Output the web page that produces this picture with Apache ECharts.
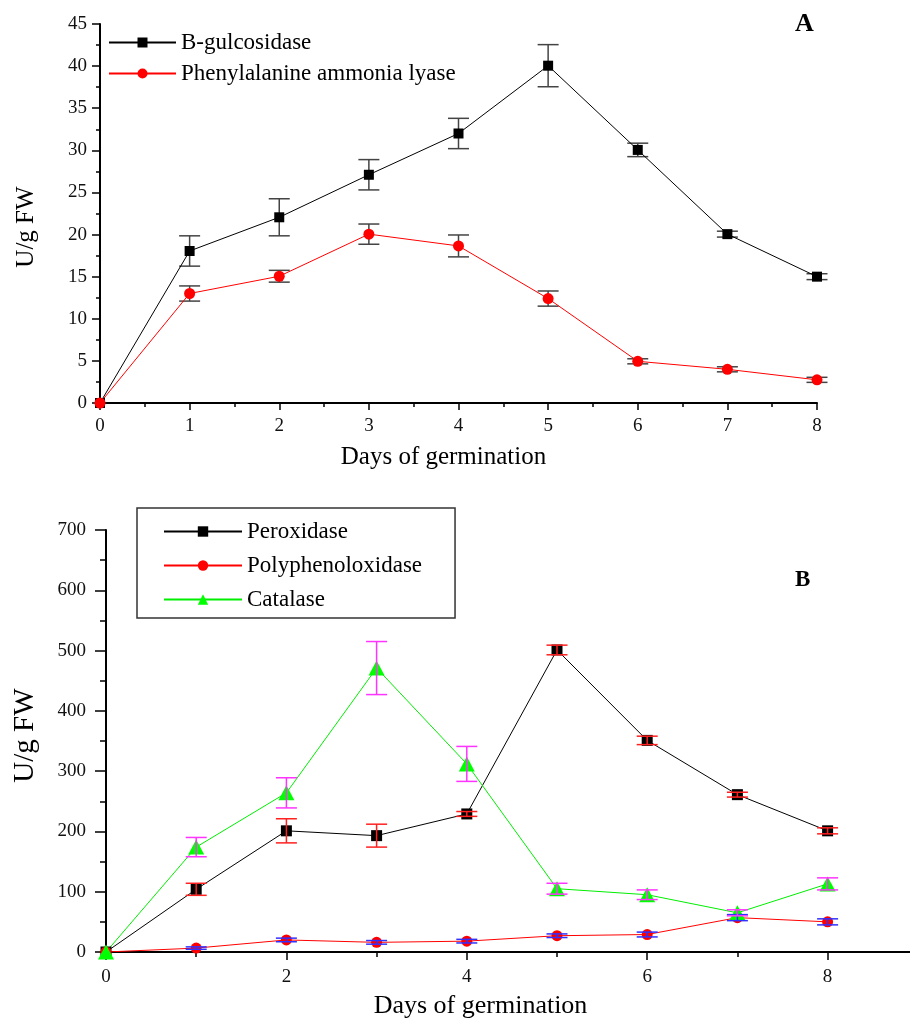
<!DOCTYPE html>
<html>
<head>
<meta charset="utf-8">
<script src="https://cdn.jsdelivr.net/npm/echarts@6/dist/echarts.min.js"></script>
<style>html,body{margin:0;padding:0;background:#fff}#c{width:910px;height:1021px}</style>
</head>
<body>
<div id="c"></div>
<script>
// ---- Data ----
var days = [0, 1, 2, 3, 4, 5, 6, 7, 8];
// Panel A
var bGlucosidase    = [0, 18.05, 22.05, 27.1, 32.0, 40.05, 30.05, 20.05, 15.0];
var bGlucosidaseErr = [0, 1.8, 2.2, 1.8, 1.8, 2.5, 0.8, 0.35, 0.35];
var pal             = [0, 13.0, 15.05, 20.05, 18.65, 12.4, 4.95, 4.0, 2.75];
var palErr          = [0, 0.9, 0.7, 1.2, 1.3, 0.9, 0.3, 0.3, 0.3];
// Panel B
var peroxidase      = [0, 104, 201, 193, 229, 501, 351, 261, 201];
var peroxidaseErr   = [0, 10, 20, 19, 4, 8, 7, 4, 5];
var polyphenol      = [0, 6.5, 20, 16, 18, 27, 29, 57, 50];
var polyphenolErr   = [0, 2, 3, 3, 3, 3, 4, 5, 5];
var catalase        = [0, 174, 264, 471, 312, 105, 95, 65, 113];
var catalaseErr     = [0, 16, 25, 44, 29, 9, 8, 5, 10];

var FONT = "'Liberation Serif','Times New Roman',serif";

function pts(vals) { return days.map(function (d, i) { return [d, vals[i]]; }); }
function errPts(vals, errs) { return days.map(function (d, i) { return [d, vals[i] - errs[i], vals[i] + errs[i]]; }); }

function errRenderer(color, hw) {
  return function (params, api) {
    var x = api.value(0), lo = api.value(1), hi = api.value(2);
    if (hi - lo <= 0) return null;
    var p1 = api.coord([x, hi]), p2 = api.coord([x, lo]);
    var st = { stroke: color, lineWidth: 1.5 };
    return {
      type: 'group',
      children: [
        { type: 'line', shape: { x1: p1[0], y1: p1[1], x2: p2[0], y2: p2[1] }, style: st },
        { type: 'line', shape: { x1: p1[0] - hw, y1: p1[1], x2: p1[0] + hw, y2: p1[1] }, style: st },
        { type: 'line', shape: { x1: p2[0] - hw, y1: p2[1], x2: p2[0] + hw, y2: p2[1] }, style: st }
      ]
    };
  };
}

function errSeries(vals, errs, color, gi, z) {
  return {
    type: 'custom', xAxisIndex: gi, yAxisIndex: gi, z: z, silent: true,
    renderItem: errRenderer(color, 10.5),
    encode: { x: 0, y: [1, 2] },
    data: errPts(vals, errs)
  };
}

var axisLineStyle = { color: '#000', width: 2 };
var tickStyle = { color: '#000', width: 1.5 };

var chart = echarts.init(document.getElementById('c'), null, { renderer: 'canvas' });
chart.setOption({
  animation: false,
  backgroundColor: '#fff',
  grid: [
    { left: 100, top: 24, width: 717, height: 379, outerBoundsMode: 'none' },
    { left: 106, top: 530, width: 902, height: 422, outerBoundsMode: 'none' }
  ],
  xAxis: [
    {
      type: 'value', gridIndex: 0, min: 0, max: 8, interval: 1,
      name: 'Days of germination', nameLocation: 'middle', nameGap: 42,
      nameTextStyle: { fontFamily: FONT, fontSize: 25, color: '#000', padding: [0, 30, 0, 0] },
      axisLine: { show: true, onZero: false, lineStyle: axisLineStyle },
      axisTick: { show: true, length: 7, lineStyle: tickStyle },
      minorTick: { show: true, splitNumber: 2, length: 4, lineStyle: tickStyle },
      splitLine: { show: false },
      axisLabel: { margin: 14, fontFamily: FONT, fontSize: 19, color: '#111' }
    },
    {
      type: 'value', gridIndex: 1, min: 0, max: 10, interval: 2,
      name: 'Days of germination', nameLocation: 'middle', nameGap: 41,
      nameTextStyle: { fontFamily: FONT, fontSize: 26, color: '#000', padding: [0, 153, 0, 0] },
      axisLine: { show: true, onZero: false, lineStyle: axisLineStyle },
      axisTick: { show: true, length: 8, lineStyle: tickStyle },
      minorTick: { show: true, splitNumber: 2, length: 5, lineStyle: tickStyle },
      splitLine: { show: false },
      axisLabel: { margin: 16, fontFamily: FONT, fontSize: 19, color: '#111' }
    }
  ],
  yAxis: [
    {
      type: 'value', gridIndex: 0, min: 0, max: 45, interval: 5,
      name: 'U/g FW', nameLocation: 'middle', nameGap: 61, nameRotate: 90,
      nameTextStyle: { fontFamily: FONT, fontSize: 25, color: '#000', padding: [0, 27, 0, 0] },
      axisLine: { show: true, onZero: false, lineStyle: axisLineStyle },
      axisTick: { show: true, length: 8, lineStyle: tickStyle },
      minorTick: { show: true, splitNumber: 2, length: 4, lineStyle: tickStyle },
      splitLine: { show: false },
      axisLabel: { margin: 13, fontFamily: FONT, fontSize: 19, color: '#111' }
    },
    {
      type: 'value', gridIndex: 1, min: 0, max: 700, interval: 100,
      name: 'U/g FW', nameLocation: 'middle', nameGap: 66, nameRotate: 90,
      nameTextStyle: { fontFamily: FONT, fontSize: 29, color: '#000', padding: [0, 0, 0, 11] },
      axisLine: { show: true, onZero: false, lineStyle: axisLineStyle },
      axisTick: { show: true, length: 11, lineStyle: tickStyle },
      minorTick: { show: true, splitNumber: 2, length: 6, lineStyle: tickStyle },
      splitLine: { show: false },
      axisLabel: { margin: 20, fontFamily: FONT, fontSize: 19, color: '#111' }
    }
  ],
  legend: [
    {
      data: ['B-gulcosidase', 'Phenylalanine ammonia lyase'],
      orient: 'vertical', left: 108, top: 31, padding: 0,
      itemWidth: 67, itemHeight: 12.5, itemGap: 8,
      textStyle: { fontFamily: FONT, fontSize: 23, color: '#000' }
    },
    {
      data: ['Peroxidase', 'Polyphenoloxidase', 'Catalase'],
      orient: 'vertical', left: 137, top: 508, padding: [12, 33, 7, 26],
      itemWidth: 78, itemHeight: 13, itemGap: 11,
      borderColor: '#333', borderWidth: 1.5,
      textStyle: { fontFamily: FONT, fontSize: 23, color: '#000' }
    }
  ],
  graphic: [
    { type: 'text', left: 795, top: 11, style: { text: 'A', font: 'bold 26px ' + FONT, fill: '#000' } },
    { type: 'text', left: 795, top: 569, style: { text: 'B', font: 'bold 23px ' + FONT, fill: '#000' } }
  ],
  series: [
    errSeries(bGlucosidase, bGlucosidaseErr, '#444', 0, 1),
    errSeries(pal, palErr, '#444', 0, 1),
    {
      type: 'line', name: 'B-gulcosidase', xAxisIndex: 0, yAxisIndex: 0, z: 2,
      data: pts(bGlucosidase), symbol: 'rect', symbolSize: 10,
      lineStyle: { color: '#000', width: 1 }, itemStyle: { color: '#000' }
    },
    {
      type: 'line', name: 'Phenylalanine ammonia lyase', xAxisIndex: 0, yAxisIndex: 0, z: 2,
      data: pts(pal), symbol: 'circle', symbolSize: 11,
      lineStyle: { color: '#ff0000', width: 1 }, itemStyle: { color: '#ff0000' }
    },
    {
      type: 'line', name: 'Peroxidase', xAxisIndex: 1, yAxisIndex: 1, z: 2,
      data: pts(peroxidase), symbol: 'rect', symbolSize: 11,
      lineStyle: { color: '#000', width: 1 }, itemStyle: { color: '#000' }
    },
    {
      type: 'line', name: 'Polyphenoloxidase', xAxisIndex: 1, yAxisIndex: 1, z: 2,
      data: pts(polyphenol), symbol: 'circle', symbolSize: 11,
      lineStyle: { color: '#ff0000', width: 1 }, itemStyle: { color: '#ff0000' }
    },
    {
      type: 'line', name: 'Catalase', xAxisIndex: 1, yAxisIndex: 1, z: 2,
      data: pts(catalase), symbol: 'triangle', symbolSize: [16, 15],
      lineStyle: { color: '#00ee00', width: 1 }, itemStyle: { color: '#00ff00' }
    },
    errSeries(peroxidase, peroxidaseErr, '#ff2020', 1, 3),
    errSeries(polyphenol, polyphenolErr, '#3030ff', 1, 3),
    errSeries(catalase, catalaseErr, '#ff33ff', 1, 3)
  ]
});
</script>
</body>
</html>
